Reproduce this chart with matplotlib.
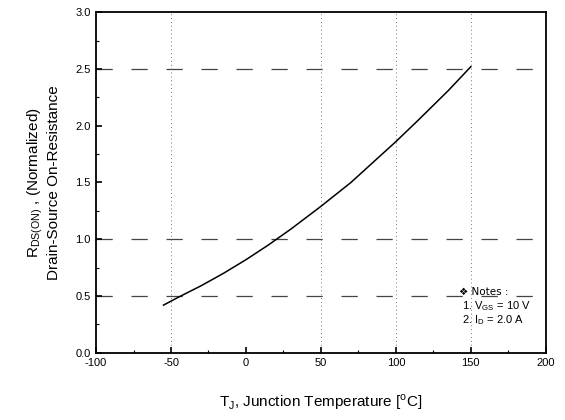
import numpy as np
import matplotlib.pyplot as plt
from matplotlib.ticker import MultipleLocator

plt.rcParams['font.family'] = ['Liberation Sans', 'DejaVu Sans']
plt.rcParams['axes.unicode_minus'] = False

# junction temperature (C) and normalized on-resistance
temp = [-55, -45, -30, -15, 0, 15, 30, 50, 70, 90, 100, 115, 135, 150]
rds = [0.42, 0.49, 0.59, 0.70, 0.82, 0.95, 1.09, 1.29, 1.50, 1.74, 1.86,
       2.05, 2.31, 2.52]

x_ticks = [-100, -50, 0, 50, 100, 150, 200]
y_ticks = [0.0, 0.5, 1.0, 1.5, 2.0, 2.5, 3.0]
x_grid = [-50, 50, 100, 150]
y_grid = [0.5, 1.0, 2.5]

fig = plt.figure(figsize=(5.65, 4.2), dpi=100)
ax = fig.add_axes([0.170, 0.160, 0.796, 0.811])

for g in y_grid:
    ax.axhline(g, color='#444444', lw=0.9, ls=(0, (13, 15)), zorder=1)
for g in x_grid:
    ax.axvline(g, color='#777777', lw=0.7, ls=(0, (1, 3)), zorder=1)

ax.plot(temp, rds, color='black', lw=1.1, zorder=3, solid_joinstyle='round')

ax.set_xlim(-100, 200)
ax.set_ylim(0, 3.0)
ax.set_xticks(x_ticks)
ax.set_yticks(y_ticks)
ax.set_yticklabels(['%.1f' % v for v in y_ticks])
ax.xaxis.set_minor_locator(MultipleLocator(25))
ax.yaxis.set_minor_locator(MultipleLocator(0.25))
ax.tick_params(which='both', direction='in', top=False, right=False,
               labelsize=8, colors='black', pad=4)
ax.tick_params(which='major', length=4, width=1.2)
ax.tick_params(which='minor', length=2, width=0.8)
for s in ax.spines.values():
    s.set_linewidth(1.3)

ax.set_xlabel(r'T$_\mathregular{J}$, Junction Temperature [$^\mathregular{o}$C]',
              fontsize=11, labelpad=17)
ax.set_ylabel('R$_\\mathregular{DS(ON)}$ , (Normalized)\nDrain-Source On-Resistance',
              fontsize=11, labelpad=10)

ax.text(142, 0.54, '\u2756 Notes :', fontsize=7.5, family=['DejaVu Sans'],
        ha='left', va='center')
ax.text(144, 0.41, '1. V$_\\mathregular{GS}$ = 10 V', fontsize=8,
        ha='left', va='center')
ax.text(144, 0.29, '2. I$_\\mathregular{D}$ = 2.0 A', fontsize=8,
        ha='left', va='center')

fig.savefig('out.png', dpi=100)
